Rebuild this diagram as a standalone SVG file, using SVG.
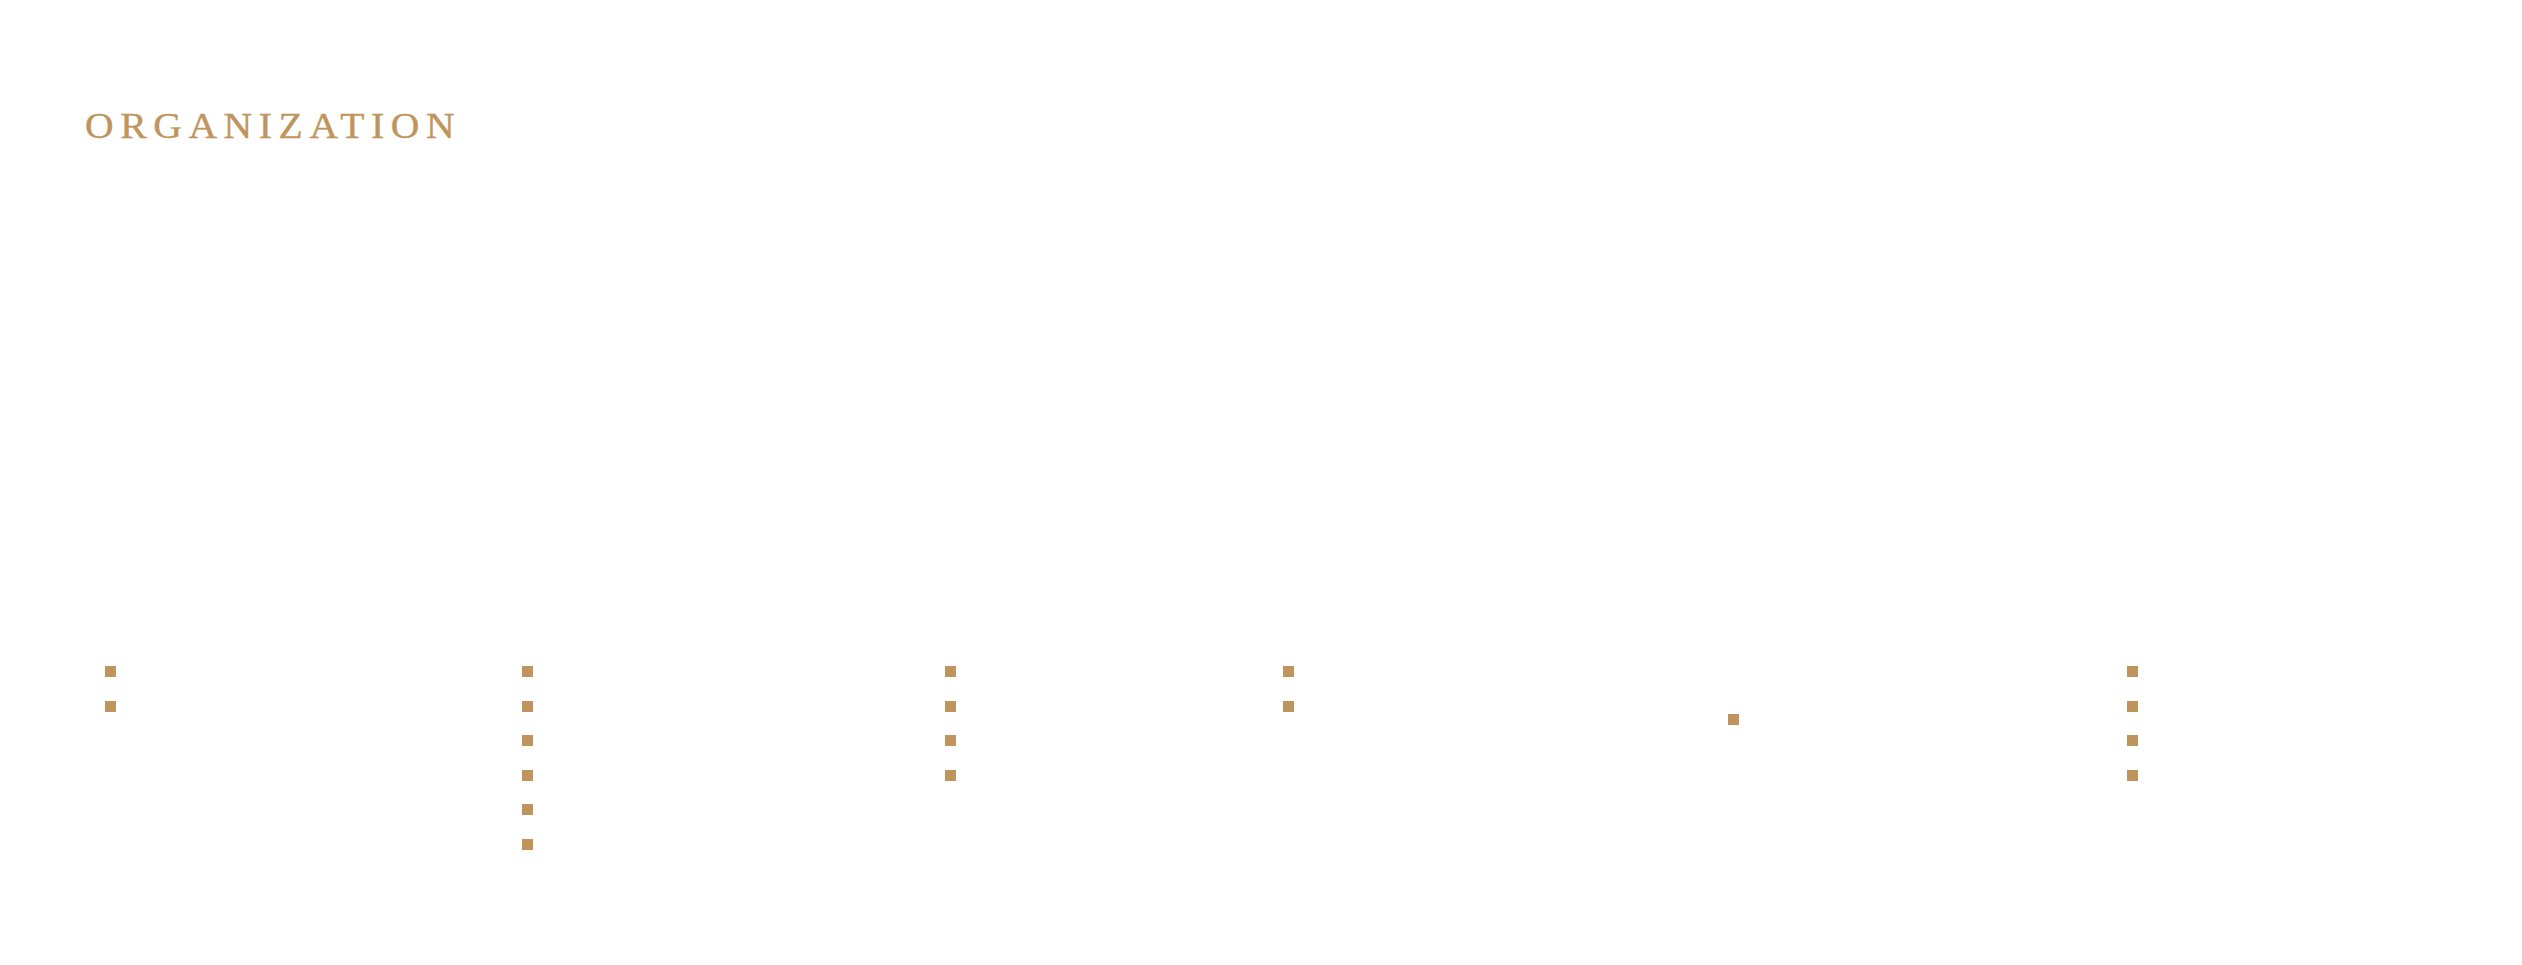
<svg xmlns="http://www.w3.org/2000/svg" width="2522" height="965" viewBox="0 0 2522 965">
<style>
.t{font-family:"Liberation Serif","DejaVu Serif",serif;font-size:36px;fill:#BF955D;stroke:#BF955D;stroke-width:0.4}
.b{fill:#BF955D}
</style>
<rect width="2522" height="965" fill="#ffffff"/>
<g id="title" transform="translate(85 138) scale(1.1 1)"><text class="t" x="0" y="0" textLength="336" lengthAdjust="spacing">ORGANIZATION</text></g>
<g id="col1"><rect class="b" x="105" y="666" width="11" height="11"/><rect class="b" x="105" y="701" width="11" height="11"/></g>
<g id="col2"><rect class="b" x="522" y="666" width="11" height="11"/><rect class="b" x="522" y="701" width="11" height="11"/><rect class="b" x="522" y="735" width="11" height="11"/><rect class="b" x="522" y="770" width="11" height="11"/><rect class="b" x="522" y="804" width="11" height="11"/><rect class="b" x="522" y="839" width="11" height="11"/></g>
<g id="col3"><rect class="b" x="945" y="666" width="11" height="11"/><rect class="b" x="945" y="701" width="11" height="11"/><rect class="b" x="945" y="735" width="11" height="11"/><rect class="b" x="945" y="770" width="11" height="11"/></g>
<g id="col4"><rect class="b" x="1283" y="666" width="11" height="11"/><rect class="b" x="1283" y="701" width="11" height="11"/></g>
<g id="col5"><rect class="b" x="1728" y="714" width="11" height="11"/></g>
<g id="col6"><rect class="b" x="2127" y="666" width="11" height="11"/><rect class="b" x="2127" y="701" width="11" height="11"/><rect class="b" x="2127" y="735" width="11" height="11"/><rect class="b" x="2127" y="770" width="11" height="11"/></g>
<g id="connectors"/>
</svg>
